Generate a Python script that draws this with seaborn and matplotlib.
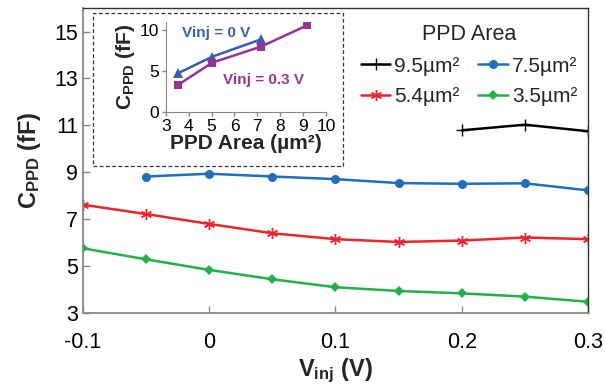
import matplotlib
matplotlib.use("Agg")
import matplotlib.pyplot as plt
from matplotlib.patches import Rectangle
import seaborn as sns

# main chart data
vinj = [-0.1, -0.05, 0.0, 0.05, 0.1, 0.15, 0.2, 0.25, 0.3]
c_95_x = [0.2, 0.25, 0.3]
c_95 = [10.79, 11.03, 10.75]
c_75_x = [-0.05, 0.0, 0.05, 0.1, 0.15, 0.2, 0.25, 0.3]
c_75 = [8.82, 8.94, 8.82, 8.71, 8.54, 8.51, 8.53, 8.23]
c_54 = [7.62, 7.22, 6.80, 6.40, 6.15, 6.03, 6.09, 6.22, 6.15]
c_35 = [5.76, 5.29, 4.84, 4.44, 4.10, 3.94, 3.84, 3.70, 3.48]

# inset data
area_0v = [3.54, 5.03, 7.15]
cap_0v = [4.74, 6.76, 8.87]
area_03v = [3.54, 5.03, 7.15, 9.18]
cap_03v = [3.32, 6.03, 7.98, 10.6]

sns.set_style("ticks")
plt.rcParams['font.family'] = ['Liberation Sans', 'DejaVu Sans']
plt.rcParams['mathtext.fontset'] = 'custom'
plt.rcParams['mathtext.rm'] = 'Liberation Sans'
plt.rcParams['mathtext.bf'] = 'Liberation Sans:bold'

fig = plt.figure(figsize=(6.05, 3.86), dpi=100)
ax = fig.add_axes([0.137, 0.189, 0.835, 0.790])

lw = 1.8
sns.lineplot(x=c_95_x, y=c_95, ax=ax, color='black', marker='+', markersize=8,
             markeredgewidth=1, markeredgecolor='black', linewidth=lw, label='9.5µm²')
sns.lineplot(x=c_75_x, y=c_75, ax=ax, color='#1F6FBF', marker='o', markersize=6.5,
             markeredgewidth=0, linewidth=lw, label='7.5µm²')
sns.lineplot(x=vinj, y=c_54, ax=ax, color='#F0222A', marker=(6, 2, 0), markersize=8,
             markeredgewidth=1, markeredgecolor='#F0222A', linewidth=lw, label='5.4µm²')
sns.lineplot(x=vinj, y=c_35, ax=ax, color='#22B04B', marker='D', markersize=5,
             markeredgewidth=0, linewidth=lw, label='3.5µm²')

ax.set_xlim(-0.1, 0.3)
ax.set_ylim(3, 16)
ax.set_xticks([-0.1, 0, 0.1, 0.2, 0.3])
ax.set_xticklabels(['-0.1', '0', '0.1', '0.2', '0.3'])
ax.set_yticks([3, 5, 7, 9, 11, 13, 15])
ax.tick_params(direction='in', length=5, width=1, colors='#888888',
               labelcolor='black', labelsize=15.5)
ax.tick_params(axis='x', pad=14)
for s in ['left', 'bottom']:
    ax.spines[s].set_color('#888888')
    ax.spines[s].set_linewidth(1.3)
for s in ['top', 'right']:
    ax.spines[s].set_color('#333333')
    ax.spines[s].set_linewidth(1)
ax.set_xlabel(r'$\mathbf{V_{inj}}$ (V)', fontsize=17, fontweight='bold', labelpad=2)
ax.set_ylabel(r'$\mathbf{C_{PPD}}$ (fF)', fontsize=17, fontweight='bold', labelpad=8)

handles, labels = ax.get_legend_handles_labels()
order = [0, 2, 1, 3]
leg = ax.legend([handles[i] for i in order], [labels[i] for i in order],
                title='PPD Area', ncol=2, frameon=False, fontsize=15,
                title_fontsize=15.5, loc='upper right', bbox_to_anchor=(0.995, 0.975),
                handlelength=1.4, handletextpad=0.2, columnspacing=0.9,
                labelspacing=0.55, borderaxespad=0)

# inset
ins = fig.add_axes([0.274, 0.710, 0.265, 0.233])
sns.lineplot(x=area_0v, y=cap_0v, ax=ins, color='#3A5DB4', marker='^', markersize=7,
             markeredgewidth=0, linewidth=1.8)
sns.lineplot(x=area_03v, y=cap_03v, ax=ins, color='#993399', marker='s', markersize=6,
             markeredgewidth=0, linewidth=1.8)
ins.set_xlim(3, 10)
ins.set_ylim(0, 11)
ins.set_xticks(range(3, 11))
ins.set_yticks([0, 5, 10])
ins.set_facecolor('none')
ins.tick_params(direction='out', length=3, width=1, colors='#888888',
                labelcolor='black', labelsize=12.5, pad=2)
for s in ['top', 'right']:
    ins.spines[s].set_visible(False)
for s in ['left', 'bottom']:
    ins.spines[s].set_color('#888888')
ins.set_xlabel('PPD Area (µm²)', fontsize=15, fontweight='bold', labelpad=0)
ins.set_ylabel(r'$\mathbf{C_{PPD}}$ (fF)', fontsize=15, fontweight='bold', labelpad=2)
ins.text(3.7, 9.6, 'Vinj = 0 V', color='#3A5DB4', fontsize=11, fontweight='bold',
         va='center')
ins.text(5.5, 3.9, 'Vinj = 0.3 V', color='#993399', fontsize=11, fontweight='bold',
         va='center')

fig.patches.append(Rectangle((92.7 / 605, 1 - 166 / 386), 250.6 / 605, 152.7 / 386,
                             transform=fig.transFigure, fill=False, edgecolor='#333333',
                             linestyle=(0, (3, 2)), linewidth=0.9))

fig.savefig('out.png', dpi=100)
